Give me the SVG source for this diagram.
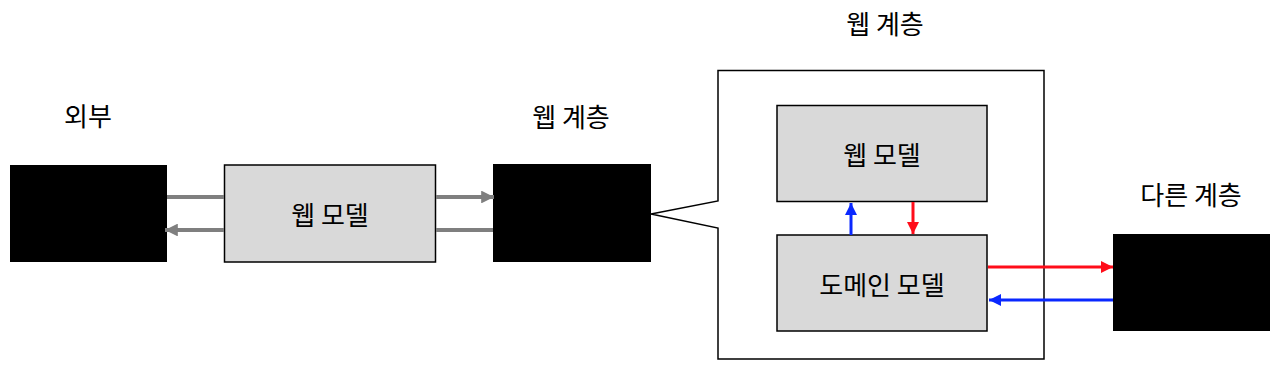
<svg xmlns="http://www.w3.org/2000/svg" width="1280" height="371" viewBox="0 0 1280 371">
<style>
text{font-family:"Noto Sans CJK KR","Noto Sans",sans-serif;font-size:26px;font-weight:400;fill:#000;text-anchor:middle;dominant-baseline:central}
.blk{fill:#000}
.mdl{fill:#d9d9d9;stroke:#000;stroke-width:1.5}
.g{stroke:#7f7f7f;stroke-width:4;fill:none}
.r{stroke:#ff0d1a;stroke-width:3;fill:none}
.b{stroke:#0a28ff;stroke-width:3;fill:none}
</style>
<defs>
<marker id="ag" viewBox="0 0 10 10" refX="10" refY="5" markerWidth="3.2" markerHeight="3.2" orient="auto"><path d="M0,0L10,5L0,10z" fill="#7f7f7f"/></marker>
<marker id="ar" viewBox="0 0 10 10" refX="10" refY="5" markerWidth="4" markerHeight="4" orient="auto"><path d="M0,0L10,5L0,10z" fill="#ff0d1a"/></marker>
<marker id="ab" viewBox="0 0 10 10" refX="10" refY="5" markerWidth="4" markerHeight="4" orient="auto"><path d="M0,0L10,5L0,10z" fill="#0a28ff"/></marker>
</defs>
<g id="external"><text x="88" y="114">외부</text><rect class="blk" x="10" y="165" width="157" height="97"/></g>
<g id="webmodel1"><rect class="mdl" x="224.5" y="165" width="211" height="97"/><text x="330" y="213">웹 모델</text></g>
<g id="weblayer"><text x="571" y="115">웹 계층</text><rect class="blk" x="493" y="164" width="158" height="98"/></g>
<g id="callout"><text x="885" y="22">웹 계층</text><path d="M718,70.5H1044V359H718V228L651,214L718,201Z" fill="#fff" stroke="#000" stroke-width="1.5"/></g>
<g id="webmodel2"><rect class="mdl" x="777" y="105.5" width="210" height="96"/><text x="882" y="153">웹 모델</text></g>
<g id="domainmodel"><rect class="mdl" x="777" y="235" width="210" height="96"/><text x="882" y="283">도메인 모델</text></g>
<g id="otherlayer"><text x="1191" y="193">다른 계층</text><rect class="blk" x="1113" y="234" width="157" height="97"/></g>
<g id="connectors">
<line class="g" x1="167" y1="197" x2="224" y2="197"/>
<line class="g" x1="224" y1="230" x2="165" y2="230" marker-end="url(#ag)"/>
<line class="g" x1="436" y1="197" x2="494" y2="197" marker-end="url(#ag)"/>
<line class="g" x1="436" y1="230" x2="493" y2="230"/>
<line class="b" x1="851" y1="235" x2="851" y2="203" marker-end="url(#ab)"/>
<line class="r" x1="913" y1="202" x2="913" y2="234" marker-end="url(#ar)"/>
<line class="r" x1="988" y1="267" x2="1113" y2="267" marker-end="url(#ar)"/>
<line class="b" x1="1113" y1="300" x2="989" y2="300" marker-end="url(#ab)"/>
</g>
</svg>
